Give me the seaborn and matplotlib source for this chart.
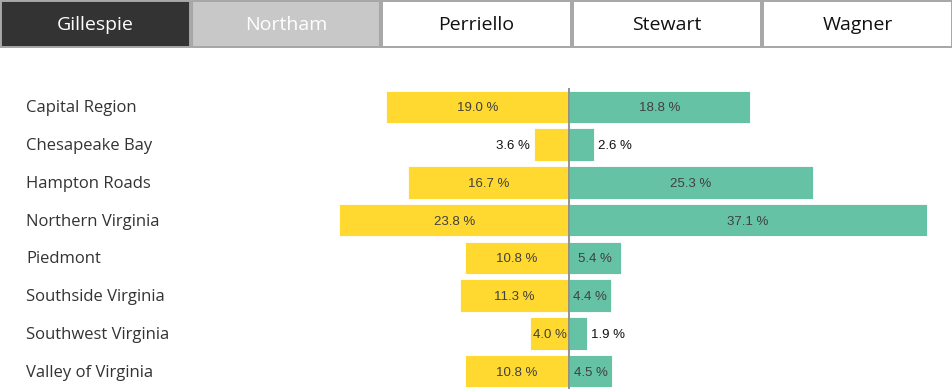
"""Diverging bar chart: regional vote share, Gillespie vs Northam (2017 VA)."""

import matplotlib.pyplot as plt
import matplotlib.transforms as mtransforms
import pandas as pd
import seaborn as sns
from matplotlib.patches import Rectangle

# ---- data ---------------------------------------------------------------
candidates = ["Gillespie", "Northam", "Perriello", "Stewart", "Wagner"]
active = ["Gillespie"]
compared = ["Northam"]

regions = [
    "Capital Region",
    "Chesapeake Bay",
    "Hampton Roads",
    "Northern Virginia",
    "Piedmont",
    "Southside Virginia",
    "Southwest Virginia",
    "Valley of Virginia",
]
gillespie_pct = [19.0, 3.6, 16.7, 23.8, 10.8, 11.3, 4.0, 10.8]
northam_pct = [18.8, 2.6, 25.3, 37.1, 5.4, 4.4, 1.9, 4.5]

YELLOW = "#FFD92F"
GREEN = "#66C2A5"

W, H = 953, 389
sns.set_theme(style="white")
plt.rcParams["font.family"] = ["Open Sans", "DejaVu Sans"]

fig = plt.figure(figsize=(W / 100, H / 100), dpi=100)
fig.patch.set_facecolor("white")

# ---- candidate buttons ---------------------------------------------------
btn_w = W / len(candidates)
for i, name in enumerate(candidates):
    x0 = i * btn_w + 1
    if name in active:
        face, txt = "#333333", "white"
    elif name in compared:
        face, txt = "#C8C8C8", "white"
    else:
        face, txt = "white", "#111111"
    fig.patches.append(
        Rectangle(
            (x0 / W, 1 - 47 / H), (btn_w - 2) / W, 46 / H,
            transform=fig.transFigure, facecolor=face,
            edgecolor="#A6A6A6", linewidth=1.4,
        )
    )
    fig.text((x0 + btn_w / 2 - 1) / W, 1 - 25 / H, name, ha="center",
             va="center", fontsize=14, color=txt)

# ---- diverging bars -------------------------------------------------------
left_df = pd.DataFrame({"region": regions, "value": [-v for v in gillespie_pct]})
right_df = pd.DataFrame({"region": regions, "value": northam_pct})

ax = fig.add_axes([300 / W, -1 / H, (W - 300) / W, 302 / H])
sns.barplot(data=left_df, x="value", y="region", color=YELLOW, saturation=1,
            width=0.86, edgecolor="white", linewidth=0.6, ax=ax)
sns.barplot(data=right_df, x="value", y="region", color=GREEN, saturation=1,
            width=0.86, edgecolor="white", linewidth=0.6, ax=ax)

px_per_pct = 9.65
center_px = 569
ax.set_xlim(-(center_px - 300) / px_per_pct, (W - center_px) / px_per_pct)
ax.set_ylim(len(regions) - 0.5, -0.5)
ax.axvline(0, color="#8A8A8A", linewidth=1.3, zorder=5)
ax.set_axis_off()

# region names on the far left
lbl_tr = mtransforms.blended_transform_factory(fig.transFigure, ax.transData)
for i, reg in enumerate(regions):
    ax.text(26 / W, i + 0.04, reg, transform=lbl_tr, ha="left", va="center",
            fontsize=12, color="#333333")

# value labels: centred inside when they fit, outside otherwise
renderer = fig.canvas.get_renderer()
pad = 4 / px_per_pct
for i, (g, n) in enumerate(zip(gillespie_pct, northam_pct)):
    for val, sign in ((g, -1), (n, 1)):
        t = ax.text(sign * val / 2, i + 0.04, f"{val:.1f} %", ha="center",
                    va="center", fontsize=9.5, color="#404040",
                    family=["Liberation Sans", "DejaVu Sans"], zorder=6)
        tw = t.get_window_extent(renderer=renderer).width
        if tw + 2 > val * px_per_pct:
            t.set_x(sign * (val + pad))
            t.set_ha("left" if sign > 0 else "right")
            t.set_color("#111111")

fig.savefig("out.png", dpi=100)
